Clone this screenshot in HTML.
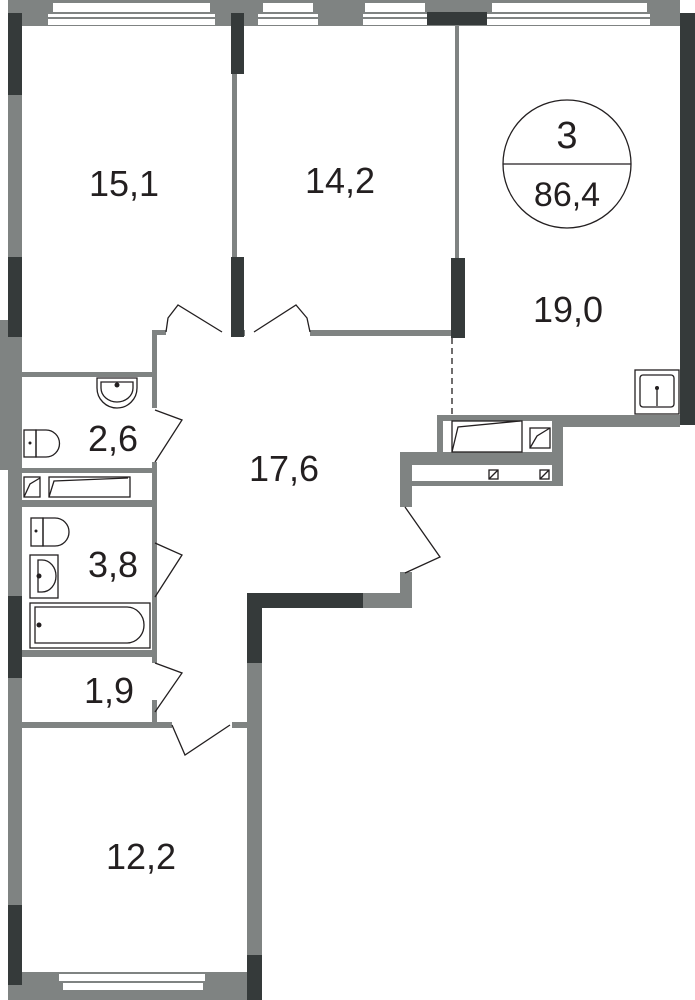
<!DOCTYPE html>
<html><head><meta charset="utf-8"><style>
html,body{margin:0;padding:0;background:#fff;}
svg{display:block;}
text{font-family:"Liberation Sans",sans-serif;fill:#231f20;}
</style></head><body>
<svg width="695" height="1000" viewBox="0 0 695 1000" xmlns="http://www.w3.org/2000/svg">
<g fill="#7f8382">
 <!-- top wall -->
 <rect x="8" y="0" width="672" height="26"/>
 <!-- left outer -->
 <rect x="8" y="13" width="14" height="987"/>
 <rect x="0" y="320" width="10" height="150"/>
 <!-- partition 15.1 / 14.2 -->
 <rect x="232" y="26" width="5" height="240"/>
 <!-- partition 14.2/19.0 -->
 <rect x="455" y="26" width="4" height="240"/>
 <!-- 14.2 bottom -->
 <rect x="310" y="330" width="145" height="6"/>
 <rect x="237" y="330" width="8" height="6"/>
 <!-- 15.1 bottom / corridor left -->
 <rect x="152" y="330" width="14" height="5"/>
 <rect x="152" y="330" width="5" height="78"/>
 <rect x="152" y="462" width="5" height="175"/>
 <rect x="152" y="597" width="5" height="3"/>
 <rect x="152" y="660" width="5" height="3"/>
 <rect x="152" y="700" width="5" height="28"/>
 <!-- baths horizontal -->
 <rect x="22" y="372" width="135" height="5"/>
 <rect x="22" y="468" width="135" height="5"/>
 <rect x="22" y="500" width="135" height="7"/>
 <rect x="22" y="650" width="135" height="7"/>
 <rect x="22" y="722" width="150" height="6"/>
 <rect x="232" y="722" width="18" height="6"/>
 <rect x="152" y="600" width="5" height="60"/>
 <!-- 12.2 right wall -->
 <rect x="247" y="593" width="15" height="407"/>
 <!-- bottom wall -->
 <rect x="8" y="972" width="254" height="28"/>
 <!-- corridor right -->
 <rect x="363" y="593" width="49" height="15"/>
 <rect x="400" y="572" width="12" height="36"/>
 <rect x="400" y="452" width="12" height="55"/>
 <rect x="400" y="452" width="163" height="13"/>
 <rect x="412" y="481" width="151" height="5"/>
 <rect x="552" y="415" width="11" height="71"/>
 <rect x="437" y="415" width="6" height="40"/>
 <rect x="437" y="415" width="126" height="6"/>
 <rect x="552" y="415" width="128" height="12"/>
 <rect x="650" y="0" width="30" height="26"/>
</g>
<g fill="#353a3a">
 <rect x="8" y="13" width="14" height="82"/>
 <rect x="8" y="257" width="14" height="80"/>
 <rect x="231" y="13" width="13" height="61"/>
 <rect x="231" y="257" width="13" height="80"/>
 <rect x="451" y="258" width="14" height="80"/>
 <rect x="427" y="12" width="60" height="13"/>
 <rect x="680" y="13" width="15" height="412"/>
 <rect x="8" y="596" width="14" height="82"/>
 <rect x="8" y="905" width="14" height="80"/>
 <rect x="247" y="593" width="116" height="15"/>
 <rect x="247" y="593" width="15" height="70"/>
 <rect x="247" y="955" width="15" height="45"/>
</g>
<!-- windows -->
<g fill="#fff" stroke="none">
 <rect x="53" y="3" width="157" height="9"/>
 <rect x="48" y="14" width="167" height="3"/>
 <rect x="48" y="19" width="167" height="6"/>
 <rect x="263" y="3" width="50" height="9"/>
 <rect x="258" y="14" width="60" height="3"/>
 <rect x="258" y="19" width="60" height="6"/>
 <rect x="365" y="3" width="60" height="9"/>
 <rect x="363" y="14" width="64" height="3"/>
 <rect x="363" y="19" width="64" height="6"/>
 <rect x="492" y="3" width="155" height="9"/>
 <rect x="487" y="14" width="163" height="3"/>
 <rect x="487" y="19" width="163" height="6"/>
 <rect x="59" y="974" width="146" height="7"/>
 <rect x="63" y="983" width="140" height="7"/>
</g>
<g fill="none" stroke="#231f20" stroke-width="1.3">
 <!-- doors -->
 <polyline points="222,332 178,305 168,318 166,332"/>
 <polyline points="254,332 296,305 307,318 310,332"/>
 <polyline points="155,410 182,420 155,462"/>
 <polyline points="155,543 182,555 155,597"/>
 <polyline points="155,663 182,673 155,712"/>
 <polyline points="172,725 185,755 230,725"/>
 <polyline points="405,507 440,557 405,573"/>
 <line x1="452" y1="338" x2="452" y2="415" stroke-dasharray="6,4"/>
 <!-- fixtures -->
 <path d="M97,378 v10 a20,20 0 0 0 40,0 v-10 z"/>
 <path d="M101,382 v6 a16,14 0 0 0 32,0 v-6 z"/>
 <rect x="24" y="430" width="12" height="27"/>
 <path d="M36,430 h10 a13,13 0 0 1 0,27 h-10 z"/>
 <rect x="24" y="477" width="16" height="20"/>
 <path d="M24,497 L30,484 L40,478"/>
 <rect x="49" y="477" width="81" height="20"/>
 <path d="M49,497 L54,481 L128,478"/>
 <rect x="31" y="518" width="12" height="28"/>
 <path d="M43,518 h12 a14,14 0 0 1 0,28 h-12 z"/>
 <rect x="30" y="555" width="28" height="43"/>
 <path d="M38,560 h4 a14,16 0 0 1 0,32 h-4 z"/>
 <rect x="30" y="603" width="120" height="45"/>
 <path d="M35,607 h92 a17,18 0 0 1 0,36 h-92 z"/>
 <rect x="635" y="370" width="44" height="44"/>
 <rect x="640" y="375" width="34" height="32" rx="3"/>
 <line x1="657" y1="388" x2="657" y2="406"/>
 <rect x="452" y="421" width="70" height="31"/>
 <path d="M452,452 L458,427 L520,421"/>
 <rect x="530" y="428" width="20" height="20"/>
 <path d="M530,448 L537,436 L550,428"/>
 <rect x="489" y="470" width="9" height="9"/>
 <line x1="489" y1="479" x2="498" y2="470"/>
 <rect x="540" y="470" width="9" height="9"/>
 <line x1="540" y1="479" x2="549" y2="470"/>
 <!-- badge -->
 <circle cx="567" cy="164" r="64"/>
 <line x1="503" y1="164" x2="631" y2="164"/>
</g>
<g fill="#231f20">
 <circle cx="117" cy="385" r="2.5"/>
 <circle cx="30" cy="443" r="1.5"/>
 <circle cx="36" cy="531" r="1.5"/>
 <circle cx="39" cy="576" r="2.5"/>
 <circle cx="39" cy="625" r="2.5"/>
 <circle cx="657" cy="388" r="2"/>
</g>
<g font-size="36" text-anchor="middle">
 <text x="124" y="196">15,1</text>
 <text x="340" y="193">14,2</text>
 <text x="568" y="322">19,0</text>
 <text x="113" y="451">2,6</text>
 <text x="284" y="481">17,6</text>
 <text x="113" y="577">3,8</text>
 <text x="109" y="703">1,9</text>
 <text x="141" y="869">12,2</text>
 <text x="567" y="148" font-size="38">3</text>
 <text x="567" y="206" font-size="34">86,4</text>
</g>
</svg>
</body></html>
